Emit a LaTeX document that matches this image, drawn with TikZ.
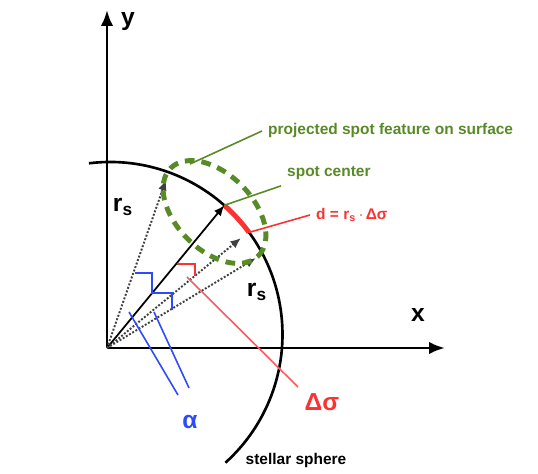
\documentclass[tikz,border=0pt]{standalone}
\usepackage{fontspec}
\setmainfont{Liberation Sans}
\usetikzlibrary{arrows.meta}
\definecolor{spotgreen}{RGB}{88,138,38}
\definecolor{spotred}{RGB}{250,50,50}
\definecolor{spotblue}{RGB}{45,75,250}
\tikzset{
  axis/.style={line width=1.6pt,-{Latex[length=9pt,width=7pt]}},
  vec/.style={line width=1pt,-{Latex[length=6pt,width=5pt]}},
  ray/.style={line width=1.1pt,densely dotted,black!75,-{Latex[length=6pt,width=5pt]}},
  lead/.style={line width=0.9pt},
  lbl/.style={font=\bfseries\fontsize{8.8}{10}\selectfont},
  big/.style={font=\bfseries\fontsize{14}{16}\selectfont}
}
\begin{document}
\begin{tikzpicture}
\useasboundingbox (-2.14,-2.5) rectangle (8.62,6.96);
\coordinate (O) at (0,0);
\coordinate (C) at (0.06,0.27); % sphere center
\coordinate (ytip) at (0,6.76);
\coordinate (xtip) at (6.76,0);
\draw[axis] (O) -- (ytip);
\draw[axis] (O) -- (xtip);
\node[big] (ylab) at (0.42,6.52) {y};
\node[big] (xlab) at (6.22,0.66) {x};

% stellar sphere
\draw[line width=1.5pt] ([shift={(C)}]97:3.45) arc[start angle=97,end angle=-48,radius=3.45];
\node[lbl] (sphere) at (3.78,-2.24) {stellar sphere};

% spot and rays
\coordinate (spot) at ([shift={(C)}]48.5:3.45);
\coordinate (rimB) at ([shift={(C)}]36.3:3.45);
\coordinate (t1) at (1.18,3.36);
\coordinate (t2) at (2.68,2.2);
\coordinate (t3) at (2.98,1.8);
\coordinate (E) at (2.15,2.72);
\draw[spotred,line width=2.8pt] (spot) arc[start angle=48.5,end angle=36.3,radius=3.45];
\draw[vec] (O) -- (spot);
\foreach \t in {t1,t2,t3}
  \draw[ray] (O) -- (\t);
\draw[spotgreen,line width=2.8pt,dash pattern=on 5.5pt off 4pt,rotate around={-45:(E)}] (E) ellipse[x radius=1.24,y radius=0.76];

\node[big] (rs1) at (0.32,2.82) {r\textsubscript{s}};
\node[big] (rs2) at (3.0,1.12) {r\textsubscript{s}};

% angle marks
\draw[spotblue,line width=1.6pt] (0.56,1.5) -| (0.9,1.1) -| (1.3,0.76);
\draw[spotred,line width=1.6pt] (1.4,1.68) -| (1.76,1.44);

% labels
\node[lbl,text=spotgreen,anchor=west] (proj) at (3.1,4.34) {projected spot feature on surface};
\coordinate (projtip) at (1.66,3.68);
\draw[lead,spotgreen] (proj.west) -- (projtip);
\node[lbl,text=spotgreen,anchor=west] (sc) at (3.48,3.5) {spot center};
\draw[lead,spotgreen] (sc.south west) -- (spot);
\node[lbl,text=spotred,anchor=west] (dlab) at (4.06,2.66) {d = r\textsubscript{s}\,$\cdot$\,Δσ};
\draw[lead,spotred] (dlab.west) -- (rimB);

\node[big,text=spotred] (dsig) at (4.3,-1.08) {Δσ};
\coordinate (sigA) at (1.6,1.42);
\coordinate (sigB) at (3.82,-0.78);
\draw[lead,spotred!80] (sigA) -- (sigB);

\node[big,text=spotblue] (alpha) at (1.66,-1.48) {α};
\coordinate (a1) at (0.44,0.72);
\coordinate (a2) at (1.42,-0.94);
\coordinate (b1) at (0.94,0.72);
\coordinate (b2) at (1.64,-0.8);
\draw[lead,spotblue] (a1) -- (a2);
\draw[lead,spotblue] (b1) -- (b2);
\end{tikzpicture}
\end{document}
